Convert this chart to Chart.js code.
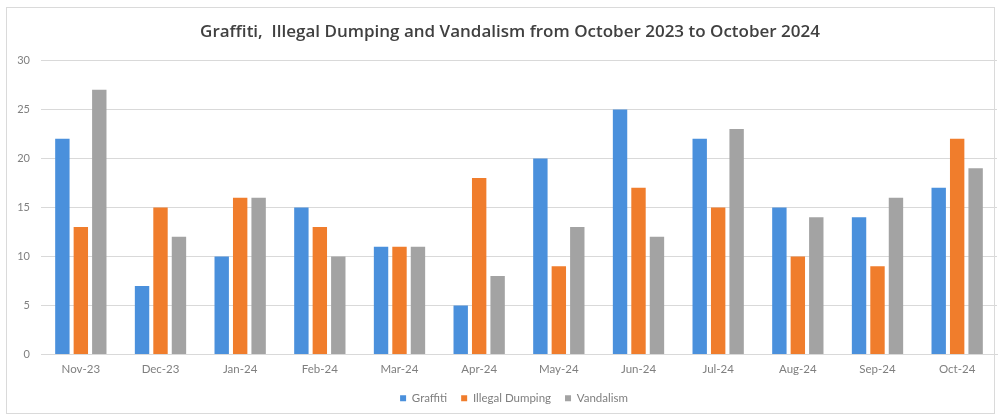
<!DOCTYPE html>
<html>
<head>
<meta charset="utf-8">
<script src="https://cdn.jsdelivr.net/npm/chart.js@4"></script>
<style>
html,body{margin:0;padding:0;background:#fff;}
#frame{position:absolute;left:6px;top:7px;width:987px;height:405px;border:1px solid #dadada;pointer-events:none;}
canvas{display:block;position:absolute;left:0;top:0;}
</style>
</head>
<body>
<canvas id="c" width="1001" height="415"></canvas>
<div id="frame"></div>
<script>
const categories = ["Nov-23","Dec-23","Jan-24","Feb-24","Mar-24","Apr-24","May-24","Jun-24","Jul-24","Aug-24","Sep-24","Oct-24"];
const graffiti = [22,7,10,15,11,5,20,25,22,15,14,17];
const illegalDumping = [13,15,16,13,11,18,9,17,15,10,9,22];
const vandalism = [27,12,16,10,11,8,13,12,23,14,16,19];
const yTicks = [0,5,10,15,20,25,30];
const titleText = "Graffiti,  Illegal Dumping and Vandalism from October 2023 to October 2024";

const shiftBoxes = {
  id: 'shiftBoxes',
  afterLayout(chart) {
    if (chart.titleBlock) { chart.titleBlock.left = 24; chart.titleBlock.right = 996; }
    if (chart.legend) { chart.legend.left = 30; chart.legend.right = 998; }
  }
};

const ctx = document.getElementById('c');
new Chart(ctx, {
  type: 'bar',
  data: {
    labels: categories,
    datasets: [
      {label: 'Graffiti', data: graffiti, backgroundColor: '#4a90dc'},
      {label: 'Illegal Dumping', data: illegalDumping, backgroundColor: '#f07d2c'},
      {label: 'Vandalism', data: vandalism, backgroundColor: '#a3a3a3'}
    ]
  },
  plugins: [shiftBoxes],
  options: {
    responsive: false,
    animation: false,
    datasets: {bar: {categoryPercentage: 0.695, barPercentage: 0.78}},
    layout: {padding: {left: 0, right: 4, top: 0, bottom: 1}},
    plugins: {
      title: {
        display: true, text: titleText, color: '#404040',
        font: {family: "'Open Sans', sans-serif", size: 17, weight: '600'},
        padding: {top: 22, bottom: 18}
      },
      legend: {
        position: 'bottom',
        labels: {boxWidth: 6, boxHeight: 6, color: '#7f7f7f', padding: 14,
          font: {family: "Lato, sans-serif", size: 11.5}}
      },
      tooltip: {enabled: false}
    },
    scales: {
      x: {
        clip: false,
        grid: {display: false},
        border: {color: '#d9d9d9'},
        ticks: {color: '#7f7f7f', font: {family: "Lato, sans-serif", size: 11.5}, padding: 0, maxRotation: 0},
        afterFit: s => { s.height = 24; }
      },
      y: {
        clip: false,
        min: 0, max: 30,
        afterBuildTicks: s => { s.ticks = yTicks.map(v => ({value: v})); },
        ticks: {color: '#7f7f7f', font: {family: "Lato, sans-serif", size: 11}, padding: 11},
        grid: {color: '#d9d9d9', drawTicks: false},
        border: {display: false},
        afterFit: s => { s.width = 41; }
      }
    }
  }
});
</script>
</body>
</html>
